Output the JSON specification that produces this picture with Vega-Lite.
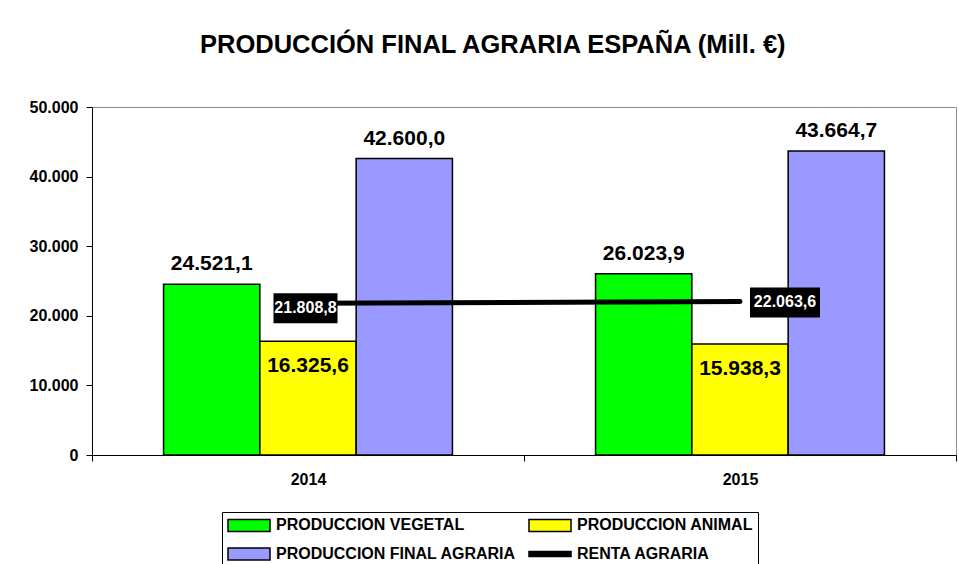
{
  "$schema": "https://vega.github.io/schema/vega-lite/v6.json",
  "width": 864,
  "height": 348,
  "autosize": "none",
  "padding": {"left": 92, "top": 107, "right": 3, "bottom": 109},
  "background": "white",
  "config": {
    "locale": {"number": {"decimal": ",", "thousands": ".", "grouping": [3], "currency": ["", " €"]}},
    "font": "Liberation Sans",
    "view": {"stroke": "#8c8c8c", "strokeWidth": 1}
  },
  "title": {
    "text": "PRODUCCIÓN FINAL AGRARIA ESPAÑA (Mill. €)",
    "fontSize": 25.5,
    "fontWeight": "bold",
    "font": "Liberation Sans",
    "color": "black",
    "anchor": "middle",
    "frame": "bounds",
    "baseline": "alphabetic",
    "offset": 21
  },
  "datasets": {
    "bars": [
      {"year": "2014", "serie": "PRODUCCION VEGETAL", "value": 24521.1},
      {"year": "2014", "serie": "PRODUCCION ANIMAL", "value": 16325.6},
      {"year": "2014", "serie": "PRODUCCION FINAL AGRARIA", "value": 42600.0},
      {"year": "2015", "serie": "PRODUCCION VEGETAL", "value": 26023.9},
      {"year": "2015", "serie": "PRODUCCION ANIMAL", "value": 15938.3},
      {"year": "2015", "serie": "PRODUCCION FINAL AGRARIA", "value": 43664.7}
    ],
    "renta": [
      {"year": "2014", "value": 21808.8},
      {"year": "2015", "value": 22063.6}
    ]
  },
  "layer": [
    {
      "data": {"name": "bars"},
      "mark": {"type": "bar", "stroke": "black", "strokeWidth": 1.5, "opacity": 1},
      "encoding": {
        "x": {
          "field": "year", "type": "nominal",
          "scale": {"paddingInner": 0, "paddingOuter": 0},
          "axis": {"title": null, "labelAngle": 0, "labelFontSize": 16, "labelFontWeight": "bold", "labelColor": "black", "tickBand": "extent", "tickSize": 6, "tickColor": "black", "domainColor": "black", "labelPadding": 10, "grid": false}
        },
        "xOffset": {
          "field": "serie", "type": "nominal",
          "scale": {"domain": ["PRODUCCION VEGETAL", "PRODUCCION ANIMAL", "PRODUCCION FINAL AGRARIA"], "paddingInner": 0, "paddingOuter": 0.743}
        },
        "y": {
          "field": "value", "type": "quantitative",
          "scale": {"domain": [0, 50000], "nice": false},
          "axis": {"title": null, "values": [0, 10000, 20000, 30000, 40000, 50000], "format": ",d", "labelFontSize": 16, "labelFontWeight": "bold", "labelColor": "black", "tickSize": 6, "tickColor": "black", "domainColor": "black", "labelPadding": 8, "grid": false}
        },
        "color": {
          "field": "serie", "type": "nominal",
          "scale": {"domain": ["PRODUCCION VEGETAL", "PRODUCCION ANIMAL", "PRODUCCION FINAL AGRARIA", "RENTA AGRARIA"], "range": ["#00ff00", "#ffff00", "#9999ff", "#000000"]},
          "legend": {
            "title": null,
            "orient": "none",
            "legendX": 130,
            "legendY": 405,
            "direction": "horizontal",
            "columns": 2,
            "labelFontSize": 16,
            "labelFont": "Liberation Sans",
            "labelFontWeight": "bold",
            "labelColor": "black",
            "labelLimit": 400,
            "symbolType": "M-1,-0.86L5,-0.86L5,0.86L-1,0.86Z",
            "symbolSize": 196,
            "symbolStrokeColor": "black",
            "symbolStrokeWidth": 1.5,
            "symbolOpacity": 1,
            "strokeColor": "black",
            "padding": 5,
            "columnPadding": 10,
            "rowPadding": 9,
            "labelOffset": 33,
            "gridAlign": "all",
            "encode": {
              "legend": {
                "update": {
                  "width": {"value": 605}
                }
              },
              "symbols": {
                "update": {
                  "shape": [
                    {"test": "datum.value === 'RENTA AGRARIA'", "value": "M-1,-0.36L5,-0.36L5,0.36L-1,0.36Z"},
                    {"value": "M-1,-0.86L5,-0.86L5,0.86L-1,0.86Z"}
                  ]
                }
              }
            }
          }
        }
      }
    },
    {
      "data": {"name": "bars"},
      "transform": [{"filter": "datum.serie !== 'PRODUCCION ANIMAL'"}],
      "mark": {"type": "text", "fontSize": 21, "fontWeight": "bold", "color": "black", "baseline": "alphabetic", "align": "center", "dy": -14},
      "encoding": {
        "x": {"field": "year", "type": "nominal"},
        "xOffset": {"field": "serie", "type": "nominal"},
        "y": {"field": "value", "type": "quantitative"},
        "text": {"field": "value", "type": "quantitative", "format": ",.1f"}
      }
    },
    {
      "data": {"name": "bars"},
      "transform": [{"filter": "datum.serie === 'PRODUCCION ANIMAL'"}],
      "mark": {"type": "text", "fontSize": 21, "fontWeight": "bold", "color": "black", "baseline": "alphabetic", "align": "center", "dy": 31},
      "encoding": {
        "x": {"field": "year", "type": "nominal"},
        "xOffset": {"field": "serie", "type": "nominal"},
        "y": {"field": "value", "type": "quantitative"},
        "text": {"field": "value", "type": "quantitative", "format": ",.1f"}
      }
    },
    {
      "data": {"name": "renta"},
      "mark": {"type": "line", "color": "black", "strokeWidth": 5, "strokeCap": "round"},
      "encoding": {
        "x": {"field": "year", "type": "nominal"},
        "y": {"field": "value", "type": "quantitative"}
      }
    },
    {
      "data": {"name": "renta"},
      "transform": [{"filter": "datum.year === '2014'"}],
      "mark": {"type": "point", "shape": "M-1,-0.47L1,-0.47L1,0.47L-1,0.47Z", "size": 4096, "filled": true, "color": "black", "opacity": 1, "xOffset": -2.5, "yOffset": 5},
      "encoding": {
        "x": {"field": "year", "type": "nominal"},
        "y": {"field": "value", "type": "quantitative"}
      }
    },
    {
      "data": {"name": "renta"},
      "transform": [{"filter": "datum.year === '2014'"}],
      "mark": {"type": "text", "fontSize": 16, "fontWeight": "bold", "color": "white", "baseline": "middle", "align": "center", "xOffset": -2.5, "yOffset": 5},
      "encoding": {
        "x": {"field": "year", "type": "nominal"},
        "y": {"field": "value", "type": "quantitative"},
        "text": {"field": "value", "type": "quantitative", "format": ",.1f"}
      }
    },
    {
      "data": {"name": "renta"},
      "transform": [{"filter": "datum.year === '2015'"}],
      "mark": {"type": "point", "shape": "M-1,-0.43L1,-0.43L1,0.43L-1,0.43Z", "size": 4900, "filled": true, "color": "black", "opacity": 1, "xOffset": 45, "yOffset": 1},
      "encoding": {
        "x": {"field": "year", "type": "nominal"},
        "y": {"field": "value", "type": "quantitative"}
      }
    },
    {
      "data": {"name": "renta"},
      "transform": [{"filter": "datum.year === '2015'"}],
      "mark": {"type": "text", "fontSize": 16, "fontWeight": "bold", "color": "white", "baseline": "middle", "align": "center", "xOffset": 45, "yOffset": 1},
      "encoding": {
        "x": {"field": "year", "type": "nominal"},
        "y": {"field": "value", "type": "quantitative"},
        "text": {"field": "value", "type": "quantitative", "format": ",.1f"}
      }
    }
  ]
}
